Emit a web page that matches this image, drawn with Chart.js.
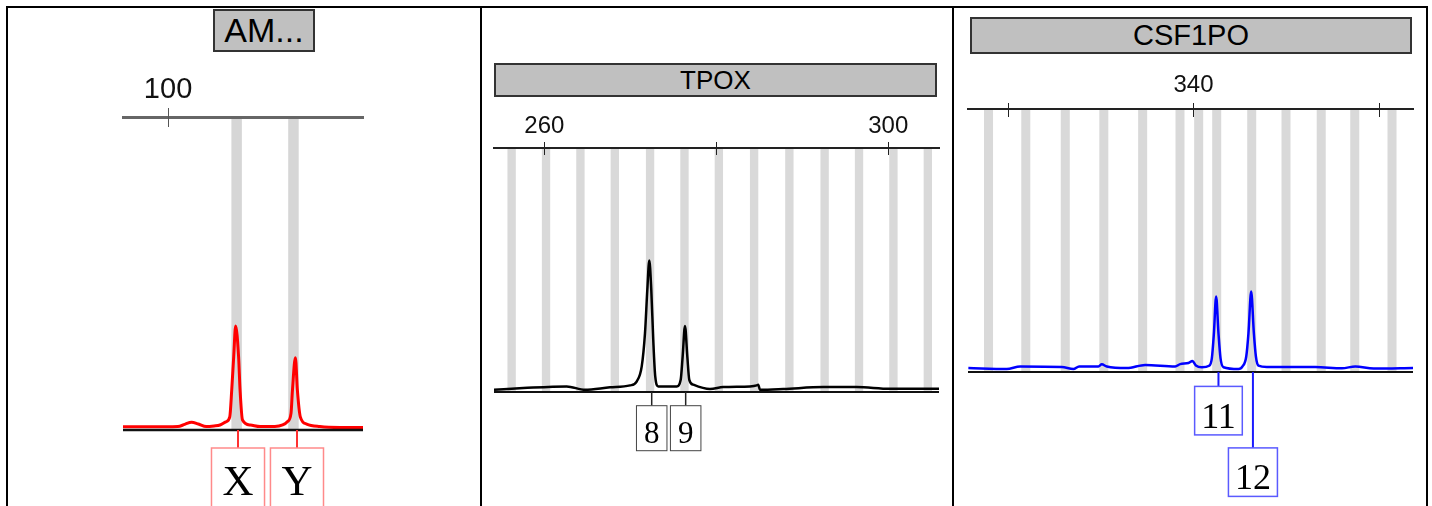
<!DOCTYPE html>
<html><head><meta charset="utf-8">
<script src="https://cdn.jsdelivr.net/npm/chart.js@4.4.1/dist/chart.umd.min.js"></script>
<style>
html,body{margin:0;padding:0;background:#fff;width:1432px;height:506px;overflow:hidden;position:relative}
.frame{position:absolute;background:#000}
.panel{position:absolute;top:0}
.title{position:absolute;box-sizing:border-box;background:#c0c0c0;border:2px solid #333;font-family:"Liberation Sans",Arial,sans-serif;color:#000;display:flex;align-items:center;justify-content:center;white-space:nowrap}
</style></head><body>
<div class="frame" style="left:6px;top:6px;width:1422px;height:2px"></div>
<div class="frame" style="left:6px;top:6px;width:2px;height:500px"></div>
<div class="frame" style="left:480px;top:6px;width:2px;height:500px"></div>
<div class="frame" style="left:952px;top:6px;width:2px;height:500px"></div>
<div class="frame" style="left:1426px;top:6px;width:2px;height:500px"></div>

<canvas id="c1" class="panel" width="472" height="506" style="left:8px"></canvas>
<canvas id="c2" class="panel" width="470" height="506" style="left:482px"></canvas>
<canvas id="c3" class="panel" width="472" height="506" style="left:954px"></canvas>

<div class="title" id="t1" style="left:213px;top:9px;width:102px;height:43px;font-size:34px"></div>
<div class="title" id="t2" style="left:494px;top:63px;width:443px;height:34px;font-size:26px"></div>
<div class="title" id="t3" style="left:970px;top:17px;width:442px;height:37px;font-size:29px"></div>

<script>
// ---------- DATA ----------
// Panel 1: Amelogenin
const amelTitle = 'AM...';
const amelTicks = [100];
const amelTickLabels = [100];
const amelBins = [107.0, 112.8];
const amelAlleles = ['X', 'Y'];
const amelAlleleBp = [107.14, 113.16];
const amelTraceBp  = [95.4, 98.2, 101.0, 101.7, 102.4, 103.1, 103.9, 104.7, 105.3, 105.9, 106.3, 106.5, 106.7, 106.9, 107.2, 107.35, 107.6, 108.4, 109.4, 110.9, 111.7, 112.2, 112.55, 112.7, 113.0, 113.2, 113.5, 114.15, 115.5, 117.55, 119.9];
const amelTraceRfu = [10, 10, 11, 18, 25, 19, 11, 13, 16, 26, 42, 128, 234, 332, 234, 128, 32, 16, 11, 11, 16, 27, 53, 128, 231, 128, 42, 19, 11, 8, 8];

// Panel 2: TPOX
const tpoxTitle = 'TPOX';
const tpoxTicks = [260, 280, 300];
const tpoxTickLabels = [260, 300];
const tpoxBins = [256.2, 260.2, 264.2, 268.2, 272.3, 276.3, 280.3, 284.4, 288.5, 292.6, 296.6, 300.6, 304.6];
const tpoxAlleles = ['8', '9'];
const tpoxAlleleBp = [272.49, 276.44];
const tpoxTraceBp  = [254.15, 257.56, 262.6, 264.73, 267.64, 269.97, 270.74, 271.33, 271.71, 271.98, 272.21, 272.44, 272.67, 272.9, 273.26, 275.4, 275.86, 276.09, 276.36, 276.63, 276.86, 277.33, 279.27, 280.81, 283.92, 284.7, 284.88, 285.08, 287.79, 292.44, 296.33, 300.2, 305.9];
const tpoxTraceRfu = [9, 16, 23, 9, 19, 27, 43, 105, 241, 419, 539, 419, 214, 64, 23, 23, 50, 146, 271, 146, 50, 30, 12, 20, 23, 27, 30, 9, 12, 20, 20, 13, 13];

// Panel 3: CSF1PO
const csfTitle = 'CSF1PO';
const csfTicks = [320, 340, 360];
const csfTickLabels = [340];
const csfBins = [317.94, 321.95, 326.2, 330.35, 334.53, 338.55, 340.56, 342.5, 346.27, 349.96, 353.75, 357.36, 361.37];
const csfAlleles = ['11', '12'];
const csfAlleleBp = [342.69, 346.4];
const csfTraceBp  = [315.77, 319.9, 321.34, 325.83, 327.08, 327.69, 329.77, 330.13, 330.67, 332.83, 334.8, 338.03, 338.57, 339.46, 339.89, 340.26, 340.9, 341.69, 341.98, 342.2, 342.44, 342.69, 342.91, 343.23, 344.85, 345.28, 345.68, 345.92, 346.21, 346.5, 346.72, 347.0, 347.9, 353.11, 355.98, 357.42, 359.39, 363.7];
const csfTraceRfu = [15, 11, 21, 19, 11, 21, 21, 29, 21, 15, 27, 21, 30, 34, 42, 25, 18, 24, 53, 148, 287, 148, 53, 18, 11, 21, 59, 148, 306, 148, 59, 24, 19, 19, 14, 21, 13, 15];

// ---------- RENDERING ----------
const strPlugin = {
  id: 'str',
  beforeDraw(chart, args, o) {
    const {ctx, chartArea: a, scales: {x}} = chart;
    ctx.save();
    ctx.fillStyle = o.binColor;
    o.bins.forEach(b => {
      const l = x.getPixelForValue(b - o.binWidth / 2), r = x.getPixelForValue(b + o.binWidth / 2);
      ctx.fillRect(l, a.top, r - l, a.bottom - a.top);
    });
    ctx.restore();
  },
  afterDraw(chart, args, o) {
    const {ctx, chartArea: a, scales: {x, y}} = chart;
    ctx.save();
    ctx.strokeStyle = o.tickColor; ctx.lineWidth = 1;
    x.ticks.forEach(t => {
      const px = Math.round(x.getPixelForValue(t.value)) + 0.5;
      ctx.beginPath(); ctx.moveTo(px, a.top - o.tickUp); ctx.lineTo(px, a.top + o.tickDown); ctx.stroke();
    });
    const y0 = y.getPixelForValue(0);
    ctx.strokeStyle = o.baseColor; ctx.lineWidth = o.baseWidth;
    ctx.beginPath(); ctx.moveTo(a.left, y0); ctx.lineTo(a.right, y0); ctx.stroke();
    ctx.font = o.labelFont;
    const placed = [];
    o.alleles.forEach((lab, i) => {
      const cx = x.getPixelForValue(o.alleleBp[i]);
      const w = ctx.measureText(lab).width + 2 * o.padX;
      const left = cx - w / 2;
      let row = 0;
      while (placed.some(p => p.row === row && left < p.right + 2 && left + w > p.left - 2)) row++;
      placed.push({row, left, right: left + w});
      const top = y0 + o.labelGap + row * (o.boxH + o.rowGap);
      ctx.strokeStyle = o.connColor; ctx.lineWidth = o.connWidth;
      ctx.beginPath(); ctx.moveTo(cx, y0); ctx.lineTo(cx, top); ctx.stroke();
      ctx.fillStyle = '#fff'; ctx.fillRect(left, top, w, o.boxH);
      ctx.strokeStyle = o.boxColor; ctx.lineWidth = o.boxWidth;
      ctx.strokeRect(left, top, w, o.boxH);
      ctx.fillStyle = '#000'; ctx.textAlign = 'center'; ctx.textBaseline = 'alphabetic';
      ctx.fillText(lab, cx, top + o.textDy);
    });
    ctx.restore();
  }
};

function makePanel(id, titleId, cfg) {
  document.getElementById(titleId).textContent = cfg.title;
  const data = cfg.bp.map((b, i) => ({x: b, y: cfg.rfu[i]}));
  new Chart(document.getElementById(id), {
    type: 'line',
    data: {datasets: [{data, borderColor: cfg.color, borderWidth: cfg.lineWidth, pointRadius: 0, cubicInterpolationMode: 'monotone', fill: false}]},
    options: {
      responsive: false, animation: false, devicePixelRatio: 1,
      layout: {padding: cfg.padding},
      plugins: {
        legend: {display: false}, tooltip: {enabled: false},
        str: cfg.str
      },
      scales: {
        x: {
          type: 'linear', position: 'top', min: cfg.min, max: cfg.max,
          grid: {display: false, drawTicks: false},
          border: {display: true, color: cfg.axisColor, width: cfg.axisWidth},
          ticks: {autoSkip: false, maxRotation: 0, padding: cfg.tickPad, color: '#111',
                  font: {family: 'Liberation Sans', size: cfg.tickFont},
                  callback: v => cfg.tickLabels.includes(v) ? String(v) : ''},
          afterBuildTicks: s => { s.ticks = cfg.ticks.map(v => ({value: v})); },
          afterFit: s => { s.height = 40; }
        },
        y: {display: false, min: 0, max: 1000}
      }
    },
    plugins: [strPlugin]
  });
}

makePanel('c1', 't1', {
  title: amelTitle, bp: amelTraceBp, rfu: amelTraceRfu, ticks: amelTicks, tickLabels: amelTickLabels,
  min: 95.4, max: 119.9, color: '#ff0000', lineWidth: 3,
  padding: {top: 77, left: 115, right: 117, bottom: 76},
  axisColor: '#666', axisWidth: 3, tickPad: 10, tickFont: 29,
  str: {bins: amelBins, binWidth: 1.07, binColor: '#d6d6d6', tickColor: '#555', tickUp: 9, tickDown: 10,
        baseColor: '#111', baseWidth: 2.5, alleles: amelAlleles, alleleBp: amelAlleleBp,
        labelFont: '43px "Liberation Serif"', padX: 11, labelGap: 18, boxH: 64, rowGap: 13, textDy: 47,
        connColor: '#ff3030', connWidth: 2, boxColor: '#ff8a8a', boxWidth: 1.5}
});

makePanel('c2', 't2', {
  title: tpoxTitle, bp: tpoxTraceBp, rfu: tpoxTraceRfu, ticks: tpoxTicks, tickLabels: tpoxTickLabels,
  min: 254.15, max: 305.9, color: '#000', lineWidth: 2.5,
  padding: {top: 108, left: 12, right: 13, bottom: 114},
  axisColor: '#222', axisWidth: 2, tickPad: 7, tickFont: 24,
  str: {bins: tpoxBins, binWidth: 0.97, binColor: '#d9d9d9', tickColor: '#222', tickUp: 6, tickDown: 7,
        baseColor: '#111', baseWidth: 2, alleles: tpoxAlleles, alleleBp: tpoxAlleleBp,
        labelFont: '31px "Liberation Serif"', padX: 7.5, labelGap: 13.7, boxH: 45, rowGap: 13, textDy: 37.3,
        connColor: '#222', connWidth: 1.5, boxColor: '#444', boxWidth: 1}
});

makePanel('c3', 't3', {
  title: csfTitle, bp: csfTraceBp, rfu: csfTraceRfu, ticks: csfTicks, tickLabels: csfTickLabels,
  min: 315.73, max: 363.63, color: '#0000ff', lineWidth: 2.5,
  padding: {top: 69, left: 14, right: 13, bottom: 134},
  axisColor: '#222', axisWidth: 2, tickPad: 9, tickFont: 24,
  str: {bins: csfBins, binWidth: 0.97, binColor: '#d9d9d9', tickColor: '#222', tickUp: 6, tickDown: 8,
        baseColor: '#111', baseWidth: 2, alleles: csfAlleles, alleleBp: csfAlleleBp,
        labelFont: '36px "Liberation Serif"', padX: 6.5, labelGap: 14.4, boxH: 48.5, rowGap: 13, textDy: 41.5,
        connColor: '#1a1aff', connWidth: 2, boxColor: '#5a5aff', boxWidth: 1.5}
});
</script>
</body></html>
